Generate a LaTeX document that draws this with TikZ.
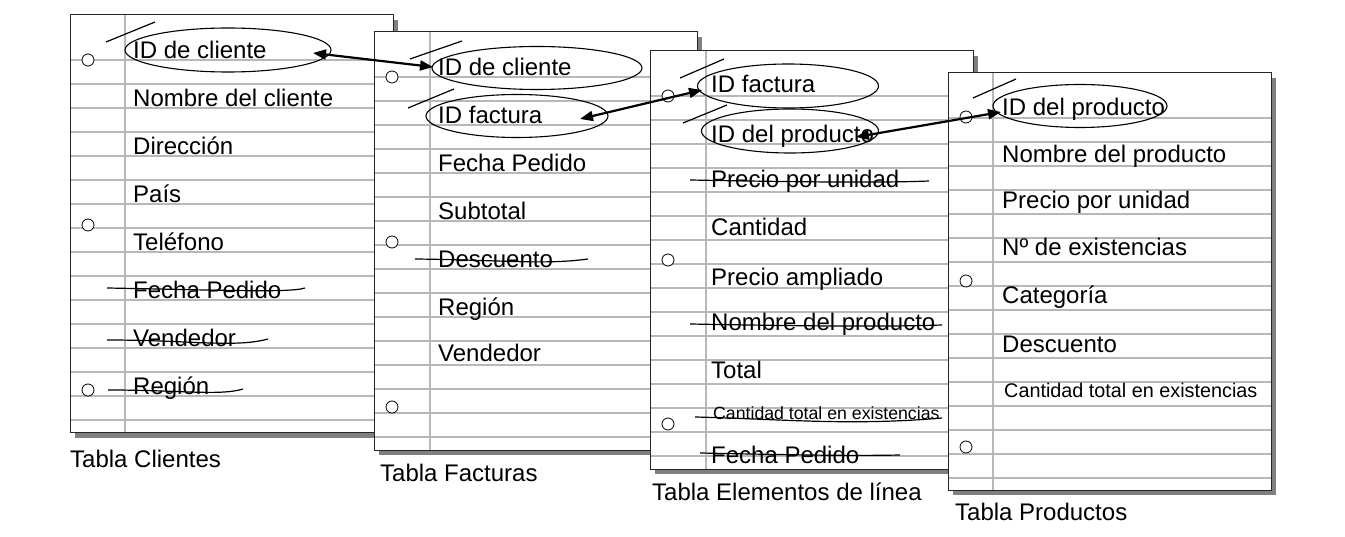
\documentclass[tikz,border=0pt]{standalone}
\usepackage{fontspec}
\setmainfont{Liberation Sans}
\usetikzlibrary{arrows.meta}
\usetikzlibrary{shapes.geometric}

\begin{document}
\begin{tikzpicture}[x=1pt, y=-1pt,
  shade/.style={fill=black!50},
  page/.style={draw=black!85, line width=1pt},
  rule/.style={draw=black!28, line width=1.1pt},
  hole/.style={fill=white, draw=black, line width=0.8pt},
  field/.style={anchor=base west, inner sep=0pt, font=\fontsize{24}{28}\selectfont},
  caption/.style={field},
  ring/.style={ellipse, draw, line width=1.1pt, inner sep=0pt},
  strike/.style={line width=1.2pt},
  link/.style={line width=2.2pt, {Triangle[length=13pt,width=10pt]}-{Triangle[length=13pt,width=10pt]}}]
\useasboundingbox (0,0) rectangle (1345,537);

% Tabla Clientes
\begin{scope}[shift={(70,15)}]
\path[shade] (5,5) rectangle (328,423);
\fill[white] (0,0) rectangle (323,418);
\foreach \k in {0,...,15} \draw[rule] (0,45+24*\k) -- (323,45+24*\k);
\draw[rule] (55,0) -- (55,418);
\draw[page] (0,0) rectangle (323,418);
\foreach \h in {45,210,375} \draw[hole] (18,\h) circle (6);
\node[field] (cli-id) at (63,44) {ID de cliente};
\node[field] (cli-nombre) at (63,92) {Nombre del cliente};
\node[field] (cli-dir) at (63,140) {Dirección};
\node[field] (cli-pais) at (63,188) {País};
\node[field] (cli-tel) at (63,236) {Teléfono};
\node[field] (cli-fecha) at (63,284) {Fecha Pedido};
\node[field] (cli-vend) at (63,332) {Vendedor};
\node[field] (cli-reg) at (63,380) {Región};
\draw[strike] (37,273) .. controls (150,275) and (220,278) .. (235,273);
\draw[strike] (37,325) .. controls (120,325) and (165,333) .. (198,324);
\draw[strike] (38,375) .. controls (110,375) and (150,381) .. (173,374);
\node[caption] (cli-cap) at (0,452) {Tabla Clientes};
\end{scope}

% Tabla Facturas
\begin{scope}[shift={(374,32)}]
\path[shade] (5,5) rectangle (328,423);
\fill[white] (0,0) rectangle (323,418);
\foreach \k in {0,...,15} \draw[rule] (0,45+24*\k) -- (323,45+24*\k);
\draw[rule] (56,0) -- (56,418);
\draw[page] (0,0) rectangle (323,418);
\foreach \h in {45,210,375} \draw[hole] (18,\h) circle (6);
\node[field] (fac-cli) at (64,44) {ID de cliente};
\node[field] (fac-id) at (64,92) {ID factura};
\node[field] (fac-fecha) at (64,140) {Fecha Pedido};
\node[field] (fac-sub) at (64,188) {Subtotal};
\node[field] (fac-desc) at (64,236) {Descuento};
\node[field] (fac-reg) at (64,284) {Región};
\node[field] (fac-vend) at (64,330) {Vendedor};
\draw[strike] (41,227) .. controls (130,228) and (170,233) .. (214,227);
\node[caption] (fac-cap) at (6,450) {Tabla Facturas};
\end{scope}

% Tabla Elementos de linea
\begin{scope}[shift={(650,51)}]
\path[shade] (5,5) rectangle (328,423);
\fill[white] (0,0) rectangle (323,418);
\foreach \k in {0,...,15} \draw[rule] (0,45+24*\k) -- (323,45+24*\k);
\draw[rule] (56,0) -- (56,418);
\draw[page] (0,0) rectangle (323,418);
\foreach \h in {45,209,373} \draw[hole] (18,\h) circle (6);
\node[field] (lin-fac) at (61,42) {ID factura};
\node[field] (lin-prod) at (61,92) {ID del producto};
\node[field] (lin-precio) at (61,137) {Precio por unidad};
\node[field] (lin-cant) at (61,185) {Cantidad};
\node[field] (lin-ampl) at (61,235) {Precio ampliado};
\node[field] (lin-nombre) at (61,280) {Nombre del producto};
\node[field] (lin-total) at (61,328) {Total};
\node[field, font=\fontsize{17.7}{20}\selectfont] (lin-exist) at (63,369) {Cantidad total en existencias};
\node[field] (lin-fecha) at (61,412) {Fecha Pedido};
\draw[strike] (40,129) .. controls (150,131) and (230,132) .. (279,130);
\draw[strike] (40,273) .. controls (150,275) and (230,276) .. (292,274);
\draw[strike] (45,366) .. controls (130,368) and (200,375) .. (292,367);
\draw[strike] (50,402) .. controls (150,404) and (200,405) .. (250,404);
\node[caption] (lin-cap) at (2,449) {Tabla Elementos de línea};
\end{scope}

% Tabla Productos
\begin{scope}[shift={(948,73)}]
\path[shade] (5,5) rectangle (328,422);
\fill[white] (0,0) rectangle (323,417);
\foreach \k in {0,...,15} \draw[rule] (0,45+24*\k) -- (323,45+24*\k);
\draw[rule] (45,0) -- (45,417);
\draw[page] (0,0) rectangle (323,417);
\foreach \h in {44,208,374} \draw[hole] (18,\h) circle (6);
\node[field] (pro-id) at (54,43) {ID del producto};
\node[field] (pro-nombre) at (54,90) {Nombre del producto};
\node[field] (pro-precio) at (54,136) {Precio por unidad};
\node[field] (pro-exist) at (54,183) {Nº de existencias};
\node[field] (pro-cat) at (54,231) {Categoría};
\node[field] (pro-desc) at (54,280) {Descuento};
\node[field, font=\fontsize{19.8}{23}\selectfont] (pro-total) at (56,325) {Cantidad total en existencias};
\node[caption] (pro-cap) at (7,447) {Tabla Productos};
\end{scope}

% keys circled by hand
\node[ring, minimum width=206pt, minimum height=44pt] (e-cli) at (228,50) {};
\draw[strike] (106,42) -- (155,22);
\node[ring, minimum width=210pt, minimum height=43pt] (e-fac-cli) at (537,68) {};
\draw[strike] (410,59) -- (462,41);
\node[ring, minimum width=182pt, minimum height=43pt] (e-fac-id) at (517,116) {};
\draw[strike] (408,108) -- (454,89);
\node[ring, minimum width=181pt, minimum height=44pt] (e-lin-fac) at (788,86) {};
\draw[strike] (680,78) -- (724,59);
\node[ring, minimum width=177pt, minimum height=44pt] (e-lin-prod) at (790,131) {};
\draw[strike] (683,123) -- (727,105);
\node[ring, minimum width=174pt, minimum height=43pt] (e-pro) at (1080,106) {};
\draw[strike] (973,98) -- (1016,79);

\coordinate (cli-tip) at (313,53);
\coordinate (fac-tip-a) at (433,67);
\coordinate (fac-tip-b) at (580,119);
\coordinate (lin-tip-a) at (702,90);
\coordinate (lin-tip-b) at (856,137);
\coordinate (pro-tip) at (1001,112);
\draw[link] (cli-tip) -- (fac-tip-a);
\draw[link] (fac-tip-b) -- (lin-tip-a);
\draw[link] (lin-tip-b) -- (pro-tip);
\end{tikzpicture}
\end{document}
